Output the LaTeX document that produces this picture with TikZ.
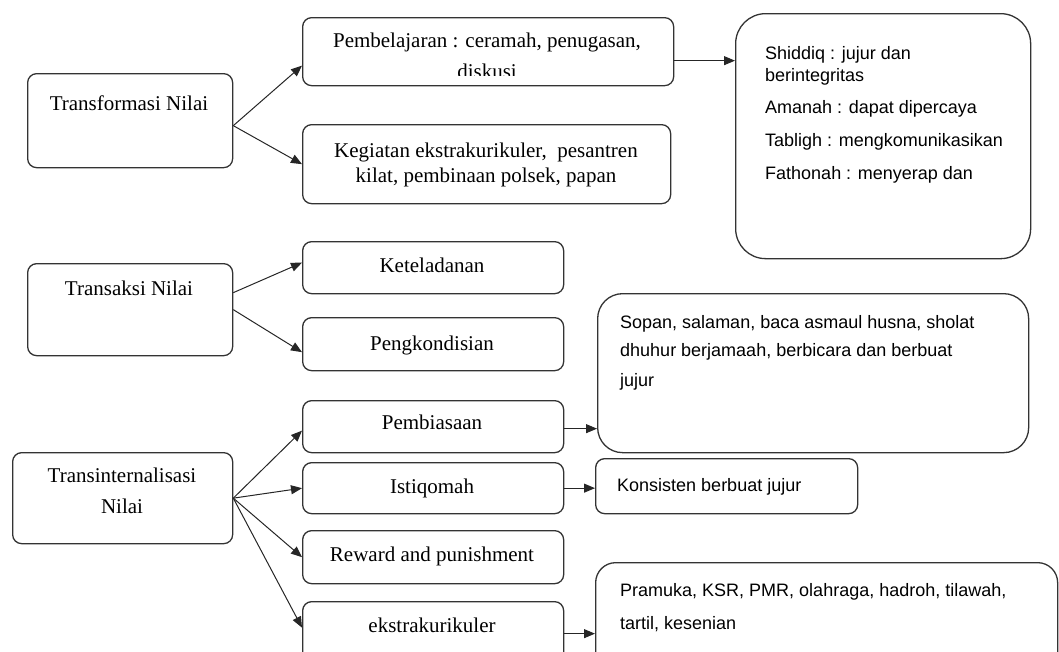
\documentclass[tikz,border=0pt]{standalone}
\usepackage{fontspec}
\setmainfont{Liberation Serif}
\newfontfamily\sansf{Liberation Sans}
\usetikzlibrary{arrows.meta}
\begin{document}
\begin{tikzpicture}[x=1pt,y=-1pt,
  box/.style={draw=black!80, line width=1.3pt, rounded corners=9pt, inner sep=0pt, anchor=north west},
  st/.style={font=\fontsize{21}{23}\selectfont, inner sep=0pt, anchor=base},
  ss/.style={font=\sansf\fontsize{18}{20}\selectfont, inner sep=0pt, anchor=base west},
  arr/.style={-{Triangle[length=11pt,width=9pt]}, line width=1pt, draw=black!85}]
\useasboundingbox (0,0) rectangle (1059,651);
% boxes
\node[box, minimum width=205, minimum height=94] (tf) at (27,73) {};
\node[box, minimum width=371, minimum height=68] (pemb) at (302,17) {};
\node[box, minimum width=368, minimum height=79] (keg) at (302,124) {};
\node[box, rounded corners=30pt, minimum width=295, minimum height=245] (sid) at (735,13) {};
\node[box, minimum width=205, minimum height=92] (tr) at (27,263) {};
\node[box, minimum width=261, minimum height=52] (ket) at (302,241) {};
\node[box, minimum width=261, minimum height=53] (peng) at (302,317) {};
\node[box, rounded corners=25pt, minimum width=431, minimum height=159] (sop) at (597,293) {};
\node[box, minimum width=220, minimum height=91] (ti) at (12,452) {};
\node[box, minimum width=261, minimum height=52] (pbs) at (302,400) {};
\node[box, minimum width=261, minimum height=51] (ist) at (302,462) {};
\node[box, minimum width=262, minimum height=55] (kon) at (595,458) {};
\node[box, minimum width=261, minimum height=53] (rew) at (302,530) {};
\node[box, minimum width=261, minimum height=70] (eks) at (302,601) {};
\node[box, rounded corners=20pt, minimum width=462, minimum height=110] (pra) at (595,562) {};
% serif texts
\node[st] (tft) at (129,110) {Transformasi Nilai};
\node[st] (pembt) at (487,47) {Pembelajaran : ceramah, penugasan,};
\begin{scope}
  \clip (pemb.north west) rectangle ([yshift=11pt]pemb.south east);
  \node[st] (pembt2) at (487,78) {diskusi};
\end{scope}
\node[st] (kegt) at (486,157) {Kegiatan ekstrakurikuler,\ \ pesantren};
\node[st] (kegt2) at (486,182) {kilat, pembinaan polsek, papan};
\node[st] (trt) at (129,295) {Transaksi Nilai};
\node[st] (kett) at (432,272) {Keteladanan};
\node[st] (pengt) at (432,350) {Pengkondisian};
\node[st] (pbst) at (432,429) {Pembiasaan};
\node[st] (istt) at (432,493) {Istiqomah};
\node[st] (rewt) at (432,561) {Reward and punishment};
\node[st] (ekst) at (432,632) {ekstrakurikuler};
\node[st] (tit) at (122,482) {Transinternalisasi};
\node[st] (tit2) at (122,513) {Nilai};
% sans texts
\node[ss] (s1) at (765,59) {Shiddiq : jujur dan};
\node[ss] (s2) at (765,81) {berintegritas};
\node[ss] (s3) at (765,113) {Amanah : dapat dipercaya};
\node[ss] (s4) at (765,146) {Tabligh : mengkomunikasikan};
\node[ss] (s5) at (765,179) {Fathonah : menyerap dan};
\node[ss] (o1) at (620,328) {Sopan, salaman, baca asmaul husna, sholat};
\node[ss] (o2) at (620,356) {dhuhur berjamaah, berbicara dan berbuat};
\node[ss] (o3) at (620,386) {jujur};
\node[ss] (k1) at (617,491) {Konsisten berbuat jujur};
\node[ss] (p1) at (620,596) {Pramuka, KSR, PMR, olahraga, hadroh, tilawah,};
\node[ss] (p2) at (620,629) {tartil, kesenian};
% connectors
\coordinate (a1) at ([yshift=-5pt]tf.east);
\draw[arr] (a1) -- ([yshift=-14pt]pemb.west);
\draw[arr] (a1) -- (keg.west);
\coordinate (a2) at ([yshift=-9pt]pemb.east);
\draw[arr] (a2) -- (a2 -| sid.west);
\draw[arr] ([yshift=17pt]tr.east) -- ([yshift=5pt]ket.west);
\draw[arr] (tr.east) -- ([yshift=-8pt]peng.west);
\draw[arr] (ti.east) -- ([yshift=-4pt]pbs.west);
\draw[arr] (ti.east) -- (ist.west);
\draw[arr] (ti.east) -- (rew.west);
\draw[arr] (ti.east) -- ([yshift=9pt]eks.west);
\coordinate (a3) at ([yshift=-2pt]pbs.east);
\draw[arr] (a3) -- (a3 -| sop.west);
\draw[arr] (ist.east) -- (ist.east -| kon.west);
\coordinate (a4) at ([yshift=3pt]eks.east);
\draw[arr] (a4) -- (a4 -| pra.west);
\end{tikzpicture}
\end{document}
